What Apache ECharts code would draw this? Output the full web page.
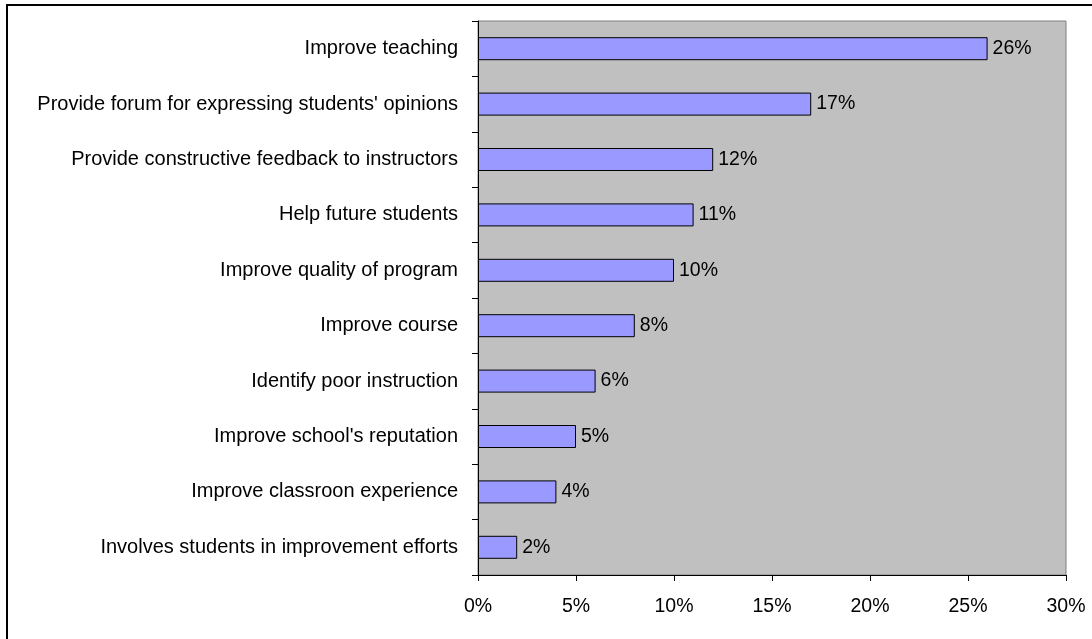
<!DOCTYPE html>
<html>
<head>
<meta charset="utf-8">
<script src="https://cdn.jsdelivr.net/npm/echarts@6/dist/echarts.min.js"></script>
<style>
  html, body { margin: 0; padding: 0; background: #fff; }
  #chart { width: 1092px; height: 639px; }
</style>
</head>
<body>
<div id="chart"></div>
<script>
// reasons, top to bottom
var categories = [
  "Improve teaching",
  "Provide forum for expressing students' opinions",
  "Provide constructive feedback to instructors",
  "Help future students",
  "Improve quality of program",
  "Improve course",
  "Identify poor instruction",
  "Improve school's reputation",
  "Improve classroon experience",
  "Involves students in improvement efforts"
];
var percents = [26, 17, 12, 11, 10, 8, 6, 5, 4, 2];

var chart = echarts.init(document.getElementById("chart"));
chart.setOption({
  animation: false,
  textStyle: { fontFamily: "Liberation Sans, Arial, sans-serif" },
  graphic: [{
    type: "rect",
    shape: { x: 7, y: 5, width: 1200, height: 800 },
    style: { fill: "none", stroke: "#000", lineWidth: 2 },
    silent: true
  }],
  grid: {
    left: 478, right: 26, top: 21, bottom: 64,
    show: true,
    backgroundColor: "#c0c0c0",
    borderColor: "#808080",
    borderWidth: 1
  },
  xAxis: {
    type: "value",
    min: 0, max: 30, interval: 5,
    axisLine: { show: true, lineStyle: { color: "#000", width: 1 } },
    axisTick: { show: true, length: 6, lineStyle: { color: "#000" } },
    splitLine: { show: false },
    axisLabel: { formatter: "{value}%", color: "#000", fontSize: 19.5, margin: 22 }
  },
  yAxis: {
    type: "category",
    inverse: true,
    data: categories,
    axisLine: { show: true, lineStyle: { color: "#000", width: 1 } },
    axisTick: { show: true, length: 6, lineStyle: { color: "#000" } },
    axisLabel: { color: "#000", fontSize: 20, margin: 20 }
  },
  series: [{
    type: "bar",
    data: percents,
    barWidth: 23,
    itemStyle: { color: "#9999ff", borderColor: "#000", borderWidth: 1 },
    label: {
      show: true,
      position: "right",
      distance: 5,
      formatter: "{c}%",
      color: "#000",
      fontSize: 19.5
    }
  }]
});
</script>
</body>
</html>
